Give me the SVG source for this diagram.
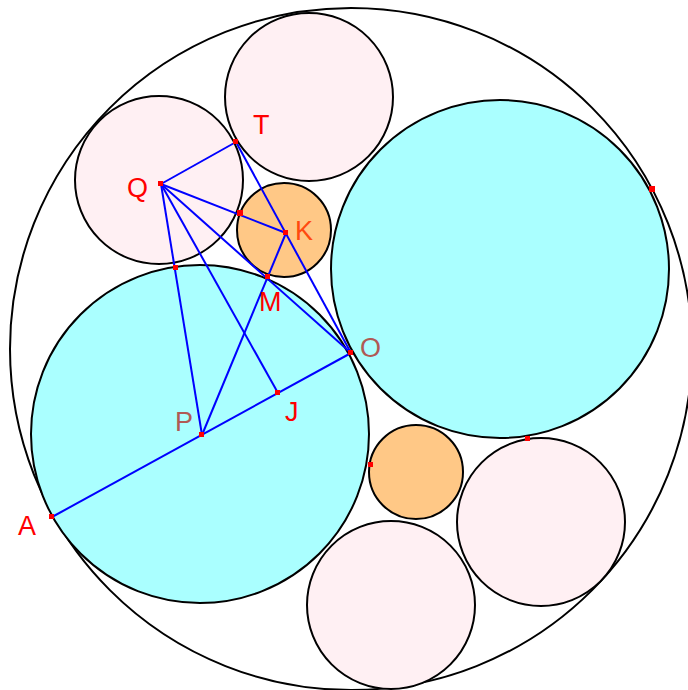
<svg xmlns="http://www.w3.org/2000/svg" width="688" height="690" viewBox="0 0 688 690">
<style>
.c{stroke:#000;stroke-width:2}
.cy{fill:#aaffff}
.pk{fill:#fff0f3}
.or{fill:#ffc886}
.ln{stroke:#0000ff;stroke-width:2;fill:none}
.pt{fill:#ff0000}
text{font-family:"Liberation Sans",Arial,sans-serif;font-size:27px}
.r{fill:#ff0000}
.k{fill:#ff4a10}
.b{fill:#b05a55}
</style>
<rect width="688" height="690" fill="#fff"/>
<g id="outer"><circle class="c" cx="351" cy="349" r="341" fill="#fff"/></g>
<g id="circleP"><circle class="c cy" cx="200" cy="434" r="169"/></g>
<g id="circleR"><circle class="c cy" cx="500" cy="269" r="169"/></g>
<g id="circleT"><circle class="c pk" cx="309" cy="97" r="84"/></g>
<g id="circleQ"><circle class="c pk" cx="159" cy="180" r="84"/></g>
<g id="circleK"><circle class="c or" cx="284" cy="230" r="47"/></g>
<g id="circleO2"><circle class="c or" cx="416" cy="472" r="47"/></g>
<g id="circleBR"><circle class="c pk" cx="541" cy="522" r="84"/></g>
<g id="circleB"><circle class="c pk" cx="391" cy="605" r="84"/></g>
<g id="connectors">
<line class="ln" x1="161" y1="184" x2="236" y2="142"/>
<line class="ln" x1="236" y1="142" x2="351" y2="353"/>
<line class="ln" x1="161" y1="184" x2="286" y2="233"/>
<line class="ln" x1="161" y1="184" x2="351" y2="353"/>
<line class="ln" x1="161" y1="184" x2="278" y2="393"/>
<line class="ln" x1="161" y1="184" x2="202" y2="435"/>
<line class="ln" x1="286" y1="233" x2="202" y2="435"/>
<line class="ln" x1="52" y1="517" x2="351" y2="353"/>
</g>
<g id="points">
<rect class="pt" x="233" y="139" width="5" height="5"/>
<rect class="pt" x="158" y="181" width="5" height="5"/>
<rect class="pt" x="283" y="230" width="5" height="5"/>
<rect class="pt" x="237" y="210" width="6" height="6"/>
<rect class="pt" x="265" y="274" width="5" height="5"/>
<rect class="pt" x="173" y="265" width="5" height="5"/>
<rect class="pt" x="199" y="432" width="5" height="5"/>
<rect class="pt" x="275" y="390" width="5" height="5"/>
<rect class="pt" x="348" y="350" width="5" height="5"/>
<rect class="pt" x="49" y="514" width="5" height="5"/>
<rect class="pt" x="649" y="186" width="6" height="6"/>
<rect class="pt" x="368" y="462" width="5" height="5"/>
<rect class="pt" x="525" y="436" width="5" height="5"/>
</g>
<g id="labels">
<text class="r" x="253" y="134">T</text>
<text class="r" x="127" y="197">Q</text>
<text class="k" x="295" y="240">K</text>
<text class="r" x="259" y="311">M</text>
<text class="b" x="360" y="357">O</text>
<text class="r" x="285" y="421">J</text>
<text class="b" x="175" y="431">P</text>
<text class="r" x="18" y="535">A</text>
</g>
</svg>
